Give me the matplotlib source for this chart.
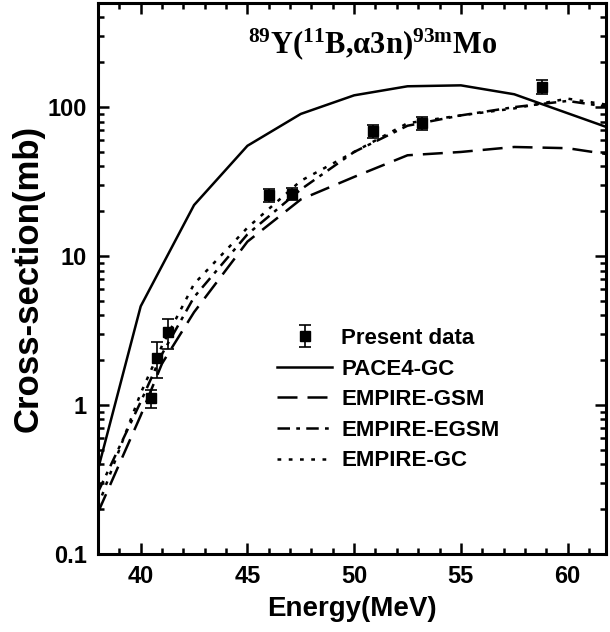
import numpy as np
import matplotlib

matplotlib.use("Agg")
import matplotlib.pyplot as plt
from matplotlib.ticker import FixedLocator, MultipleLocator, LogLocator, NullFormatter

plt.rcParams["font.family"] = ["Liberation Sans", "DejaVu Sans"]
plt.rcParams["font.weight"] = "bold"
plt.rcParams["mathtext.fontset"] = "custom"
plt.rcParams["mathtext.rm"] = "Liberation Serif:bold"
plt.rcParams["mathtext.it"] = "Liberation Serif:bold"
plt.rcParams["mathtext.bf"] = "Liberation Serif:bold"

# medidas experimentales
e_exp = [40.5, 40.75, 41.3, 46.0, 47.1, 50.9, 53.2, 58.8]
s_exp = [1.11, 2.07, 3.09, 25.7, 26.3, 69.0, 78.5, 137.0]
ds_exp = [0.15, 0.56, 0.70, 2.7, 2.5, 7.0, 8.0, 14.0]

# calculos teoricos
e_pace = [38.0, 40.0, 42.5, 45.0, 47.5, 50.0, 52.5, 55.0, 57.5, 62.0]
s_pace = [0.37, 4.6, 22.0, 55.0, 90.0, 120.0, 138.0, 140.0, 122.0, 72.0]

e_emp = [38.0, 40.0, 41.0, 42.5, 45.0, 47.5, 50.0, 52.5, 55.0, 57.5, 60.0, 62.0]
s_gsm = [0.19, 0.85, 1.9, 4.2, 12.5, 24.0, 34.0, 47.5, 50.0, 54.0, 53.0, 48.0]
s_egsm = [0.26, 1.05, 2.2, 5.3, 14.0, 28.0, 50.0, 75.0, 88.0, 100.0, 110.0, 100.0]
s_gc = [0.21, 1.2, 2.5, 6.5, 15.5, 32.0, 50.0, 78.0, 88.0, 98.0, 114.0, 103.0]

fig = plt.figure(figsize=(6.1, 6.32), dpi=100)
ax = fig.add_axes([98 / 610, 78 / 632, 508 / 610, 551 / 632])

lw = 1.8
ax.plot(e_pace, s_pace, "k-", lw=lw, label="PACE4-GC")
ax.plot(e_emp, s_gsm, "k", lw=lw, dashes=(8, 4), label="EMPIRE-GSM")
ax.plot(e_emp, s_egsm, "k", lw=lw, dashes=(5, 2.5, 1.5, 2.5), label="EMPIRE-EGSM")
ax.plot(e_emp, s_gc, "k", lw=lw, dashes=(1.5, 3), label="EMPIRE-GC")
ax.errorbar(e_exp, s_exp, yerr=ds_exp, fmt="ks", ms=7, ecolor="k",
            elinewidth=1.2, capsize=4, capthick=1.2, label="Present data")

ax.set_yscale("log")
ax.set_xlim(38, 61.8)
ax.set_ylim(0.1, 500)

ax.xaxis.set_major_locator(MultipleLocator(5))
ax.xaxis.set_minor_locator(MultipleLocator(1))
ax.yaxis.set_major_locator(FixedLocator([0.1, 1, 10, 100]))
ax.yaxis.set_minor_locator(LogLocator(base=10, subs=np.arange(2, 10)))
ax.yaxis.set_minor_formatter(NullFormatter())
ax.set_yticklabels(["0.1", "1", "10", "100"])

ax.tick_params(which="both", direction="in", top=True, right=True, width=1.8)
ax.tick_params(which="major", length=8, labelsize=17, pad=8)
ax.tick_params(which="minor", length=4)
for s in ax.spines.values():
    s.set_linewidth(2.2)

ax.set_xlabel("Energy(MeV)", fontsize=20, fontweight="bold", labelpad=6)
ax.set_ylabel("Cross-section(mb)", fontsize=25, fontweight="bold", labelpad=2)

ax.text(0.541, 0.925, r"$^{89}$Y($^{11}$B,α3n)$^{93\mathrm{m}}$Mo",
        transform=ax.transAxes, ha="center", va="center", fontsize=22,
        family="Liberation Serif", fontweight="bold")

# leyenda: los datos primero
h, l = ax.get_legend_handles_labels()
orden = [4, 0, 1, 2, 3]
ax.legend([h[i] for i in orden], [l[i] for i in orden], loc="upper left",
          bbox_to_anchor=(0.352, 0.41), frameon=False, borderpad=0,
          borderaxespad=0, handlelength=2.5, handletextpad=0.4,
          labelspacing=0.43, prop={"size": 16, "weight": "bold"})

fig.savefig("out.png", dpi=100)
